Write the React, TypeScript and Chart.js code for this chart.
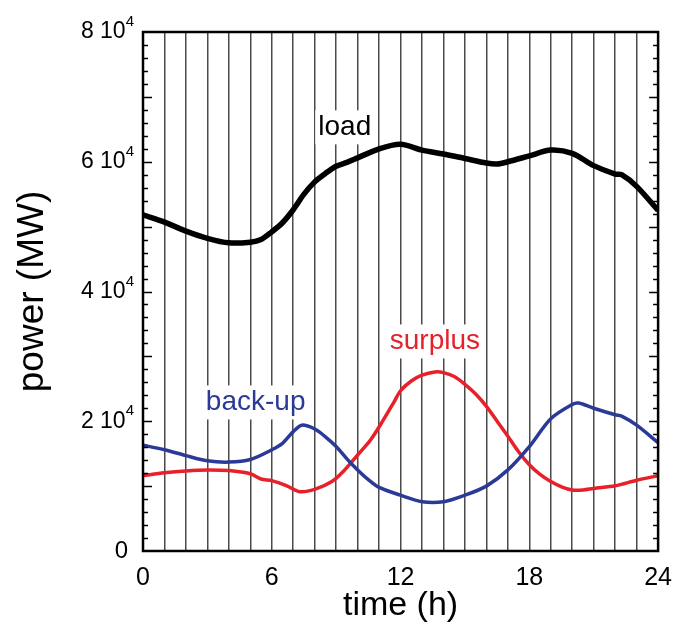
import React, { useEffect, useRef } from "react";
import { Chart, registerables } from "chart.js";

Chart.register(...registerables);

const X_TICK_LABELS = [0, 6, 12, 18, 24];
const Y_TICK_LABELS = [0, 20000, 40000, 60000, 80000];

const loadT = [0, 1, 2, 3, 4, 5, 5.5, 6, 6.5, 7, 7.5, 8, 8.5, 9, 9.5, 10, 11, 12, 13, 14, 15, 16, 16.5, 17, 18, 19, 20, 21, 22, 22.3, 23, 24];
const loadV = [51800, 50700, 49300, 48200, 47500, 47600, 48000, 49200, 50600, 52600, 55000, 56900, 58200, 59300, 59900, 60600, 62000, 62700, 61800, 61200, 60500, 59800, 59650, 60000, 60900, 61800, 61300, 59400, 58100, 58000, 56200, 52500];

const backupT = [0, 1, 2, 3, 4, 5, 6, 6.5, 7, 7.4, 8, 8.5, 9, 9.5, 10, 10.5, 11, 12, 13, 14, 15, 16, 17, 18, 19, 20, 20.3, 21, 22, 22.3, 23, 24];
const backupV = [16300, 15600, 14700, 13900, 13700, 14100, 15600, 16600, 18400, 19400, 18800, 17600, 16100, 14200, 12500, 11000, 9800, 8600, 7600, 7600, 8600, 10000, 12500, 16100, 20400, 22600, 22800, 22000, 21000, 20800, 19400, 16700];

const surplusT = [0, 1, 2, 3, 4, 5, 5.5, 6, 6.7, 7.3, 8, 8.8, 9.4, 10, 10.6, 11.2, 11.7, 12, 12.5, 13, 13.6, 14, 14.5, 15, 15.5, 16, 16.5, 17, 17.5, 18, 18.5, 19, 19.5, 20, 20.5, 21, 22, 23, 24];
const surplusV = [11600, 12050, 12350, 12500, 12400, 11900, 11100, 10850, 10050, 9150, 9500, 10700, 12500, 14800, 17100, 20200, 23000, 24700, 26200, 27100, 27600, 27500, 26900, 25700, 24200, 22300, 20000, 17700, 15300, 13300, 11800, 10700, 9900, 9400, 9400, 9650, 10050, 10900, 11600];

const FONT = "'Liberation Sans', Arial, Helvetica, sans-serif";

function pts(t: number[], v: number[]) {
  return t.map((x, i) => ({ x, y: v[i] }));
}

const overlayPlugin = {
  id: "overlay",
  beforeDatasetsDraw(chart: any) {
    const ctx = chart.ctx;
    const xs = chart.scales.x;
    const ys = chart.scales.y;
    const labels = [
      { text: "load", t: 9.4, v: 65300, color: "#000000" },
      { text: "surplus", t: 13.6, v: 32300, color: "#e8202a" },
      { text: "back-up", t: 5.25, v: 22900, color: "#2b3a97" },
    ];
    ctx.save();
    ctx.font = `28px ${FONT}`;
    ctx.textAlign = "center";
    ctx.textBaseline = "middle";
    for (const l of labels) {
      const x = xs.getPixelForValue(l.t);
      const y = ys.getPixelForValue(l.v);
      const w = ctx.measureText(l.text).width;
      ctx.fillStyle = "#ffffff";
      ctx.fillRect(x - w / 2 - 3, y - 17, w + 6, 34);
      ctx.fillStyle = l.color;
      ctx.fillText(l.text, x, y);
    }
    ctx.restore();
  },
  afterDraw(chart: any) {
    const ctx = chart.ctx;
    const a = chart.chartArea;
    const ys = chart.scales.y;
    ctx.save();
    ctx.strokeStyle = "#000";
    ctx.lineWidth = 1.5;
    for (let v = 2000; v < 80000; v += 2000) {
      const y = Math.round(ys.getPixelForValue(v)) + 0.5;
      const len = v % 10000 === 0 ? 9 : 5;
      ctx.beginPath();
      ctx.moveTo(a.left, y);
      ctx.lineTo(a.left + len, y);
      ctx.moveTo(a.right, y);
      ctx.lineTo(a.right - len, y);
      ctx.stroke();
    }
    ctx.lineWidth = 2.5;
    ctx.strokeRect(a.left, a.top, a.right - a.left, a.bottom - a.top);

    // y tick labels
    ctx.fillStyle = "#000";
    ctx.textBaseline = "middle";
    for (const v of Y_TICK_LABELS) {
      const y = ys.getPixelForValue(v);
      const right = a.left - 9;
      if (v === 0) {
        ctx.font = `24px ${FONT}`;
        ctx.textAlign = "right";
        ctx.fillText("0", right - 6, y);
      } else {
        ctx.font = `15px ${FONT}`;
        ctx.textAlign = "right";
        const supW = ctx.measureText("4").width;
        ctx.fillText("4", right, y - 10);
        ctx.font = `23px ${FONT}`;
        ctx.fillText(`${v / 10000} 10`, right - supW, y);
      }
    }
    // axis titles
    ctx.font = `34px ${FONT}`;
    ctx.textAlign = "center";
    ctx.textBaseline = "middle";
    ctx.fillText("time (h)", (a.left + a.right) / 2, 606);
    ctx.save();
    ctx.font = `37px ${FONT}`;
    ctx.translate(33, (a.top + a.bottom) / 2);
    ctx.rotate(-Math.PI / 2);
    ctx.fillText("power (MW)", 0, 0);
    ctx.restore();
    ctx.restore();
  },
};

export default function App() {
  const ref = useRef<HTMLCanvasElement | null>(null);
  useEffect(() => {
    if (!ref.current) return;
    const chart = new Chart(ref.current, {
      type: "line",
      data: {
        datasets: [
          {
            label: "load",
            data: pts(loadT, loadV),
            borderColor: "#000000",
            borderWidth: 5.5,
            pointRadius: 0,
            tension: 0.3,
            fill: false,
          },
          {
            label: "back-up",
            data: pts(backupT, backupV),
            borderColor: "#2b3a97",
            borderWidth: 3.5,
            pointRadius: 0,
            tension: 0.3,
            fill: false,
          },
          {
            label: "surplus",
            data: pts(surplusT, surplusV),
            borderColor: "#e8202a",
            borderWidth: 3.5,
            pointRadius: 0,
            tension: 0.3,
            fill: false,
          },
        ],
      },
      options: {
        responsive: false,
        animation: false,
        layout: { padding: { left: 0, top: 32, right: 22, bottom: 0 } },
        plugins: { legend: { display: false }, tooltip: { enabled: false } },
        scales: {
          x: {
            type: "linear",
            min: 0,
            max: 24,
            afterFit: (s: any) => {
              s.height = 82;
            },
            grid: { color: "#4a4a4a", lineWidth: 1.5, drawTicks: false },
            border: { display: false },
            ticks: {
              stepSize: 1,
              autoSkip: false,
              maxRotation: 0,
              padding: 12,
              color: "#000",
              font: { family: FONT, size: 25 },
              callback: (v: any) => (X_TICK_LABELS.includes(Number(v)) ? String(v) : ""),
            },
          },
          y: {
            type: "linear",
            min: 0,
            max: 80000,
            afterFit: (s: any) => {
              s.width = 143;
            },
            grid: { display: false },
            border: { display: false },
            ticks: { display: false },
          },
        },
      },
      plugins: [overlayPlugin],
    });
    return () => chart.destroy();
  }, []);
  return (
    <div style={{ position: "fixed", left: 0, top: 0, width: 684, height: 633, background: "#fff" }}>
      <canvas ref={ref} width={684} height={633} style={{ display: "block" }} />
    </div>
  );
}
